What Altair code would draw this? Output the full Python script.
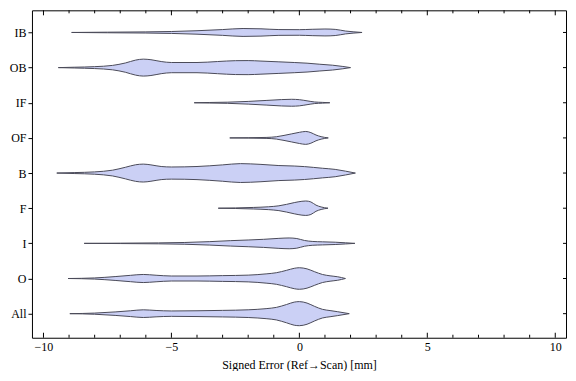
import json
import altair as alt
import pandas as pd

# Categories, top to bottom
categories = ["IB", "OB", "IF", "OF", "B", "F", "I", "O", "All"]

# Violin outlines: signed error positions (mm) and half-widths (density)
IB_x = [-8.9, -7.5, -6.0, -5.0, -4.0, -3.0, -2.2, -1.5, -0.8, 0.0, 0.5, 1.0, 1.4, 1.8, 2.1, 2.45]
IB_w = [0.0, 0.3, 0.6, 1.0, 1.8, 3.0, 4.1, 3.8, 3.0, 2.9, 3.3, 3.6, 3.2, 1.5, 0.7, 0.0]

OB_x = [-9.42, -8.8, -8.0, -7.3, -6.8, -6.4, -6.1, -5.8, -5.4, -5.0, -4.0, -3.2, -2.5, -2.0, -1.5, -0.8, -0.2, 0.3, 0.8, 1.3, 1.7, 2.0]
OB_w = [0.0, 0.4, 1.0, 2.3, 4.8, 7.8, 8.8, 8.2, 6.3, 5.3, 5.3, 6.3, 7.2, 7.3, 6.8, 6.0, 5.3, 4.6, 3.5, 2.5, 1.2, 0.0]

IF_x = [-4.11, -3.5, -2.8, -2.0, -1.3, -0.7, -0.3, 0.0, 0.3, 0.6, 0.9, 1.19]
IF_w = [0.0, 0.3, 0.6, 1.4, 2.4, 3.3, 3.6, 3.2, 2.0, 0.8, 0.4, 0.0]

OF_x = [-2.72, -2.0, -1.3, -0.9, -0.6, -0.3, 0.0, 0.25, 0.45, 0.65, 0.85, 1.13]
OF_w = [0.0, 0.2, 0.5, 1.2, 2.6, 4.2, 5.8, 6.7, 5.5, 3.0, 1.3, 0.0]

B_x = [-9.48, -8.8, -8.0, -7.3, -6.8, -6.4, -6.1, -5.8, -5.4, -5.0, -4.0, -3.0, -2.3, -1.5, -0.8, -0.2, 0.2, 0.9, 1.4, 1.8, 2.19]
B_w = [0.0, 0.5, 1.2, 3.0, 6.0, 8.6, 9.3, 8.5, 6.8, 6.3, 6.8, 8.5, 9.8, 9.0, 7.8, 7.3, 6.7, 5.0, 3.8, 2.0, 0.0]

F_x = [-3.17, -2.5, -1.8, -1.2, -0.8, -0.5, -0.2, 0.1, 0.25, 0.45, 0.65, 0.85, 1.12]
F_w = [0.0, 0.3, 0.8, 1.5, 2.5, 4.0, 5.8, 7.2, 7.5, 6.5, 3.2, 1.3, 0.0]

I_x = [-8.41, -7.0, -5.5, -4.5, -3.5, -2.7, -2.0, -1.4, -0.8, -0.4, -0.1, 0.2, 0.5, 0.9, 1.4, 1.8, 2.17]
I_w = [0.0, 0.2, 0.5, 0.9, 1.8, 2.8, 3.5, 4.2, 5.2, 5.6, 5.0, 3.0, 2.0, 1.6, 1.2, 0.6, 0.0]

O_x = [-9.04, -8.0, -7.2, -6.6, -6.1, -5.6, -5.0, -4.0, -3.0, -2.0, -1.3, -0.9, -0.5, -0.2, 0.0, 0.3, 0.6, 0.9, 1.2, 1.5, 1.8]
O_w = [0.0, 0.6, 2.0, 3.3, 4.2, 3.4, 2.6, 2.6, 3.0, 3.5, 4.8, 6.0, 8.5, 10.6, 11.2, 10.0, 7.0, 4.2, 2.8, 1.8, 0.0]

All_x = [-8.97, -8.0, -7.2, -6.6, -6.1, -5.6, -5.0, -4.0, -3.0, -2.0, -1.3, -0.9, -0.5, -0.2, 0.0, 0.3, 0.6, 0.9, 1.2, 1.5, 1.95]
All_w = [0.0, 0.6, 1.8, 3.0, 4.0, 3.3, 2.8, 3.0, 3.4, 4.0, 5.2, 6.5, 9.5, 12.0, 12.5, 11.0, 7.5, 4.5, 3.2, 2.0, 0.0]

x_ticks = [-10, -5, 0, 5, 10]
x_minor = [-9, -8, -7, -6, -4, -3, -2, -1, 1, 2, 3, 4, 6, 7, 8, 9]

series = {
    "IB": (IB_x, IB_w), "OB": (OB_x, OB_w), "IF": (IF_x, IF_w), "OF": (OF_x, OF_w),
    "B": (B_x, B_w), "F": (F_x, F_w), "I": (I_x, I_w), "O": (O_x, O_w), "All": (All_x, All_w),
}

n = len(categories)
rows = []
for i, cat in enumerate(categories):
    idx = n - 1 - i
    xs, ws = series[cat]
    for xv, wv in zip(xs, ws):
        rows.append({"cat": cat, "idx": idx, "x": xv, "w": wv})
df = pd.DataFrame(rows)

W, H = 535, 328
FONT = "Liberation Serif"
DENS = 36.5  # density units per category step

xscale = alt.Scale(domain=[-10.45, 10.42], nice=False, zero=False)
yscale = alt.Scale(domain=[-0.685, 8.63], nice=False, zero=False)

labels_bottom_up = list(reversed(categories))
label_expr = json.dumps(labels_bottom_up) + "[datum.value]"

violins = alt.Chart(df).transform_calculate(
    lo=f"datum.idx - datum.w / {DENS}",
    hi=f"datum.idx + datum.w / {DENS}",
).mark_area(
    interpolate="monotone", fill="#cbd0f5", stroke="#4a4a58", strokeWidth=1, opacity=1
).encode(
    x=alt.X("x:Q", scale=xscale, axis=alt.Axis(
        values=x_ticks, format="d", ticks=False, tickSize=0, domain=False, grid=False,
        labelFont=FONT, labelFontSize=12, labelColor="black", labelPadding=4,
        title="Signed Error (Ref→Scan) [mm]", titleFont=FONT, titleFontSize=12,
        titleFontWeight="normal", titleColor="black", titlePadding=7,
    )),
    y=alt.Y("lo:Q", scale=yscale, axis=alt.Axis(
        values=list(range(n)), labelExpr=label_expr, tickSize=4, tickColor="black",
        domain=False, grid=False, labelFont=FONT, labelFontSize=12, labelColor="black",
        labelPadding=2, title=None,
    )),
    y2="hi:Q",
    detail="cat:N",
)

major_df = pd.DataFrame({"v": x_ticks})
minor_df = pd.DataFrame({"v": x_minor})
cat_df = pd.DataFrame({"idx": list(range(n))})

def xticks(data, length):
    base = alt.Chart(data).mark_rule(color="black", strokeWidth=1)
    bottom = base.encode(x=alt.X("v:Q", scale=xscale, axis=None), y=alt.value(H), y2=alt.value(H - length))
    top = base.encode(x=alt.X("v:Q", scale=xscale, axis=None), y=alt.value(0), y2=alt.value(length))
    return [bottom, top]

right_ticks = alt.Chart(cat_df).mark_rule(color="black", strokeWidth=1).encode(
    y=alt.Y("idx:Q", scale=yscale, axis=None), x=alt.value(W), x2=alt.value(W - 3)
)

chart = alt.layer(
    violins, *xticks(major_df, 5), *xticks(minor_df, 3), right_ticks
).resolve_axis(
    x="independent", y="independent"
).properties(
    width=W, height=H, background="white",
    padding={"left": 1, "top": 1, "right": 1, "bottom": 0},
).configure_view(stroke="black", strokeWidth=1)

chart.save("out.html", embed_options={"renderer": "svg", "actions": False})
